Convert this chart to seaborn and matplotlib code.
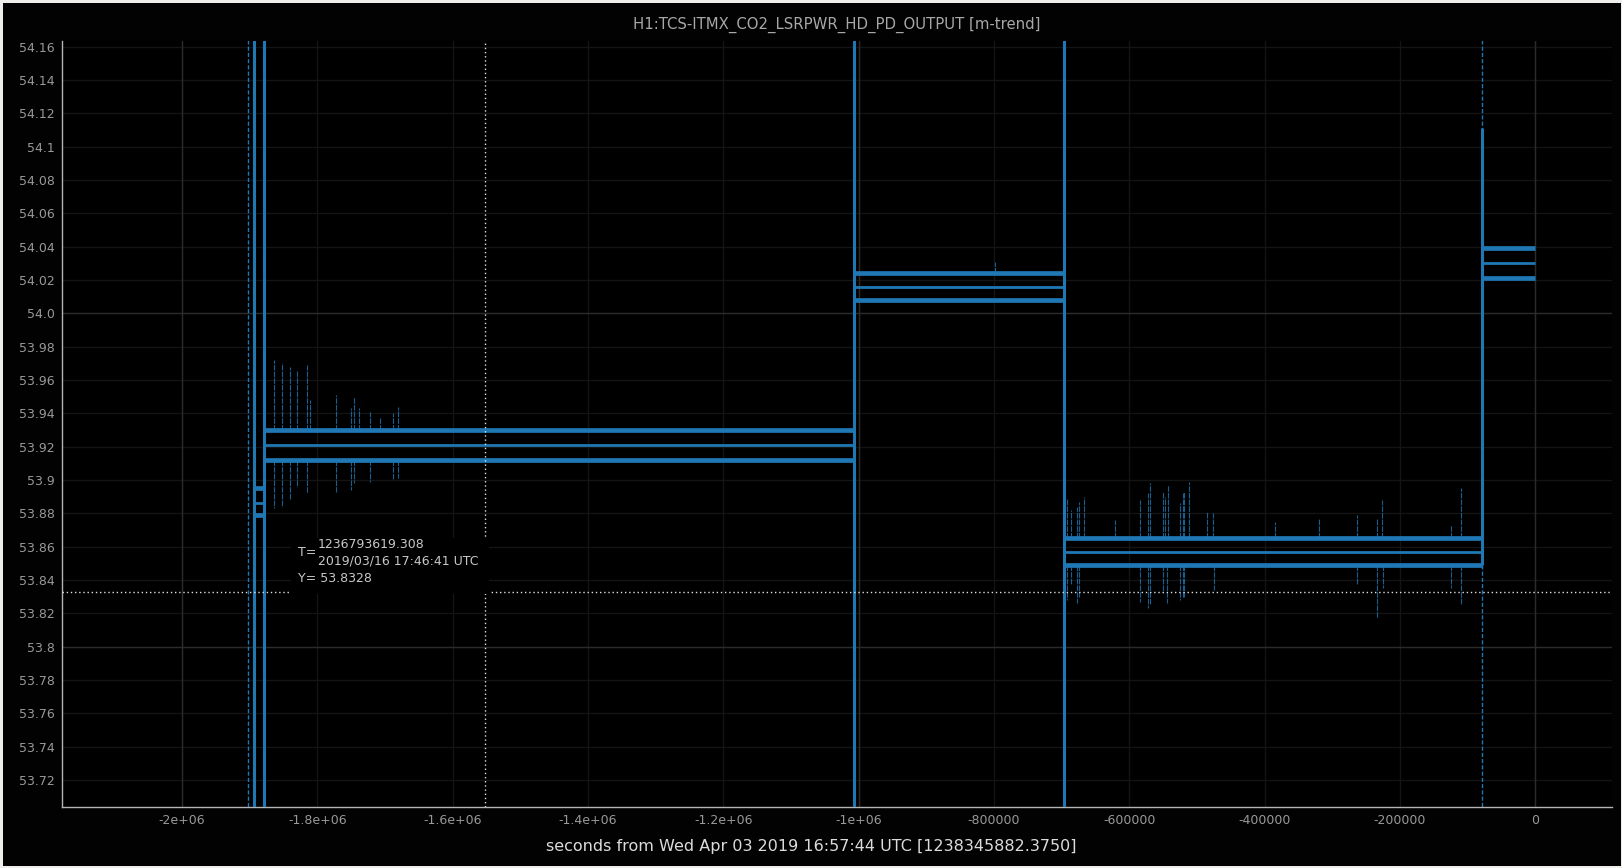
import matplotlib
matplotlib.use('Agg')
import pandas as pd
import matplotlib.pyplot as plt
import seaborn as sns
from matplotlib.patches import Rectangle

TITLE = 'H1:TCS-ITMX_CO2_LSRPWR_HD_PD_OUTPUT [m-trend]'
XLABEL = 'seconds from Wed Apr 03 2019 16:57:44 UTC [1238345882.3750]'
BLUE = '#1f77b4'

# reference time and cursor
T0 = 1238345882.375
CURSOR_T = 1236793619.308
CURSOR_Y = 53.8328
CURSOR_LINES = ['1236793619.308', '2019/03/16 17:46:41 UTC']

# m-trend plateaus, seconds relative to T0
SEG_START = [-1893100, -1879400, -1006700, -696800, -79000]
SEG_END = [-1879400, -1006700, -696800, -79000, 0]
SEG_MAX = [53.895, 53.930, 54.024, 53.865, 54.039]
SEG_MEAN = [53.886, 53.921, 54.016, 53.857, 54.030]
SEG_MIN = [53.879, 53.912, 54.008, 53.849, 54.021]

# minutes where min/max ran off the scale
GLITCH_SOLID = [-1893100, -1879400, -1006700, -696800]
GLITCH_FAINT = [-1903100, -79000]
GLITCH_LO = 53.0
GLITCH_HI = 55.0
# step at the last plateau (time, low, high)
STEP_T = [-79000]
STEP_LO = [53.849]
STEP_HI = [54.111]

# spikes on the max trace (time, peak)
UP_T = [-1864090, -1852750, -1840510, -1830580, -1815750, -1810850, -1772470,
        -1750760, -1745410, -1737920, -1722170, -1707340, -1688680, -1680430,
        -798300,
        -691450, -685500, -676600, -673700, -666300, -620500, -583500,
        -571700, -569300, -549600, -547100, -542100, -524900, -520900,
        -518500, -511200, -485500, -475700, -384400, -319000, -262800,
        -233200, -226800, -124800, -109000]
UP_V = [53.972, 53.970, 53.968, 53.966, 53.969, 53.948, 53.951,
        53.943, 53.950, 53.943, 53.941, 53.937, 53.940, 53.944,
        54.031,
        53.889, 53.882, 53.884, 53.887, 53.890, 53.876, 53.888,
        53.892, 53.898, 53.893, 53.890, 53.897, 53.886, 53.892,
        53.893, 53.899, 53.881, 53.880, 53.875, 53.877, 53.879,
        53.877, 53.888, 53.873, 53.895]

# spikes on the min trace (time, dip)
DOWN_T = [-1864090, -1852750, -1840510, -1830580, -1815750, -1772470,
          -1750760, -1745410, -1722170, -1688680, -1680430,
          -691450, -685500, -676600, -673700, -583500, -571700, -569300,
          -549600, -543600, -524900, -520900, -518500, -474200, -262800,
          -233200, -224300, -124800, -109000]
DOWN_V = [53.883, 53.884, 53.888, 53.896, 53.892, 53.893,
          53.894, 53.898, 53.899, 53.900, 53.901,
          53.828, 53.837, 53.826, 53.830, 53.827, 53.823, 53.825,
          53.832, 53.826, 53.828, 53.830, 53.830, 53.834, 53.837,
          53.817, 53.835, 53.835, 53.825]

Y_TICKS = [53.72, 53.74, 53.76, 53.78, 53.80, 53.82, 53.84, 53.86, 53.88,
           53.90, 53.92, 53.94, 53.96, 53.98, 54.00, 54.02, 54.04, 54.06,
           54.08, 54.10, 54.12, 54.14, 54.16]
Y_LABELS = ['53.72', '53.74', '53.76', '53.78', '53.8', '53.82', '53.84',
            '53.86', '53.88', '53.9', '53.92', '53.94', '53.96', '53.98',
            '54.0', '54.02', '54.04', '54.06', '54.08', '54.1', '54.12',
            '54.14', '54.16']
X_TICKS = [-2000000, -1800000, -1600000, -1400000, -1200000, -1000000,
           -800000, -600000, -400000, -200000, 0]
X_LABELS = ['-2e+06', '-1.8e+06', '-1.6e+06', '-1.4e+06', '-1.2e+06',
            '-1e+06', '-800000', '-600000', '-400000', '-200000', '0']
Y_MAJOR = [53.8, 54.0]
X_MAJOR = [-2000000, -1000000, 0]


def band_frame():
    # max/min traces, one piece per plateau
    rows = []
    for stat, vals in (('max', SEG_MAX), ('min', SEG_MIN)):
        for k, (s, e, v) in enumerate(zip(SEG_START, SEG_END, vals)):
            rows.append((f'{stat}{k}', s, v))
            rows.append((f'{stat}{k}', e, v))
    return pd.DataFrame(rows, columns=['piece', 't', 'value'])


def mean_frame():
    rows = []
    for s, e, v in zip(SEG_START, SEG_END, SEG_MEAN):
        rows.append((s, v))
        rows.append((e, v))
    return pd.DataFrame(rows, columns=['t', 'value'])


def spike_frame():
    rows = []
    k = 0
    for ts, vs, bases in ((UP_T, UP_V, SEG_MAX), (DOWN_T, DOWN_V, SEG_MIN)):
        for t, v in zip(ts, vs):
            i = max(j for j, s in enumerate(SEG_START) if s <= t)
            rows.append((k, t, bases[i]))
            rows.append((k, t, v))
            k += 1
    return pd.DataFrame(rows, columns=['id', 't', 'value'])


def vert_frame(times, lows, highs):
    rows = []
    for k, (t, lo, hi) in enumerate(zip(times, lows, highs)):
        rows.append((k, t, lo))
        rows.append((k, t, hi))
    return pd.DataFrame(rows, columns=['id', 't', 'value'])


def main():
    sns.set_theme(style='dark')
    plt.rcParams['font.family'] = ['DejaVu Sans']
    fig = plt.figure(figsize=(16.22, 8.68), dpi=100, facecolor='#efeeeb')
    fig.add_artist(Rectangle((3 / 1622, 2 / 868), 1618 / 1622, 863 / 868,
                             transform=fig.transFigure, facecolor='#020202',
                             edgecolor='none', zorder=-10))
    ax = fig.add_axes([62 / 1622, 61 / 868, 1550 / 1622, 766 / 868])
    ax.set_facecolor('#000000')

    # grid
    for y in Y_TICKS:
        ax.axhline(y, color='#141414', lw=1, zorder=0)
    for x in X_TICKS:
        ax.axvline(x, color='#141414', lw=1, zorder=0)
    for y in Y_MAJOR:
        ax.axhline(y, color='#2b2b2b', lw=1, zorder=0)
    for x in X_MAJOR:
        ax.axvline(x, color='#2b2b2b', lw=1, zorder=0)

    n = len(GLITCH_FAINT)
    sns.lineplot(data=vert_frame(GLITCH_FAINT, [GLITCH_LO] * n, [GLITCH_HI] * n),
                 x='t', y='value', units='id', estimator=None, sort=False,
                 color=BLUE, lw=1.0, linestyle=(0, (3, 1.5)), ax=ax,
                 legend=False, zorder=2)
    sns.lineplot(data=spike_frame(), x='t', y='value', units='id',
                 estimator=None, sort=False, color=BLUE, lw=0.8, alpha=0.8,
                 linestyle=(0, (5, 1)), ax=ax, legend=False, zorder=2)
    sns.lineplot(data=band_frame(), x='t', y='value', units='piece',
                 estimator=None, sort=False, color=BLUE, lw=3.4,
                 solid_capstyle='butt', ax=ax, legend=False, zorder=3)
    sns.lineplot(data=mean_frame(), x='t', y='value', estimator=None,
                 sort=False, color=BLUE, lw=2.0, solid_capstyle='butt',
                 ax=ax, legend=False, zorder=3)
    n = len(GLITCH_SOLID)
    sns.lineplot(data=vert_frame(GLITCH_SOLID, [GLITCH_LO] * n, [GLITCH_HI] * n),
                 x='t', y='value', units='id', estimator=None, sort=False,
                 color=BLUE, lw=2.2, ax=ax, legend=False, zorder=3)
    sns.lineplot(data=vert_frame(STEP_T, STEP_LO, STEP_HI), x='t', y='value',
                 units='id', estimator=None, sort=False, color=BLUE, lw=2.2,
                 solid_capstyle='butt', ax=ax, legend=False, zorder=3)

    # cursor
    cx = CURSOR_T - T0
    ax.axvline(cx, color='#e0e0e0', lw=1, ls=(0, (1, 2)), zorder=4)
    ax.axhline(CURSOR_Y, color='#e0e0e0', lw=1, ls=(0, (1, 2)), zorder=4)
    ax.add_patch(Rectangle((291 / 1622, 1 - 594 / 868), 198 / 1622, 56 / 868,
                           transform=fig.transFigure, facecolor='#000000',
                           edgecolor='none', zorder=5, clip_on=False))
    tc = '#c8c8c8'
    fig.text(298 / 1622, 1 - 552 / 868, 'T=', color=tc, fontsize=9,
             va='center', zorder=6)
    fig.text(318 / 1622, 1 - 544 / 868, CURSOR_LINES[0], color=tc,
             fontsize=9, va='center', zorder=6)
    fig.text(318 / 1622, 1 - 561 / 868, CURSOR_LINES[1], color=tc,
             fontsize=9, va='center', zorder=6)
    fig.text(298 / 1622, 1 - 578 / 868, f'Y= {CURSOR_Y:.4f}', color=tc,
             fontsize=9, va='center', zorder=6)

    ax.set_xlim(-2177500, 113600)
    ax.set_ylim(53.7038, 54.1633)
    ax.set_yticks(Y_TICKS, Y_LABELS)
    ax.set_xticks(X_TICKS, X_LABELS)
    ax.tick_params(length=0, pad=5, labelsize=9, colors='#999999')
    ax.set_xlabel('')
    ax.set_ylabel('')
    for side in ('top', 'right'):
        ax.spines[side].set_visible(False)
    for side in ('left', 'bottom'):
        ax.spines[side].set_visible(True)
        ax.spines[side].set_color('#b4b4b4')
        ax.spines[side].set_linewidth(1)
    ax.grid(False)

    fig.text(837 / 1622, 1 - 25 / 868, TITLE, color='#a8a8a8', fontsize=10.7,
             ha='center', va='center')
    fig.text(0.5, 1 - 847 / 868, XLABEL, color='#dcdcdc', fontsize=11.5,
             ha='center', va='center')

    fig.savefig('out.png', dpi=100, facecolor=fig.get_facecolor())


if __name__ == '__main__':
    main()
